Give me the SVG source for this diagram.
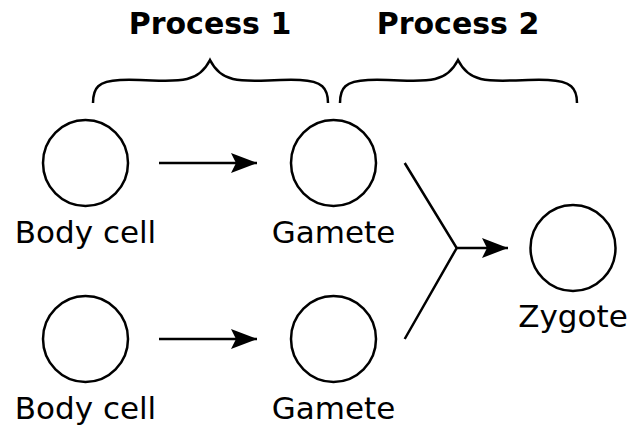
<svg xmlns="http://www.w3.org/2000/svg" width="631" height="427" viewBox="0 0 631 427">
<style>
.node{fill:none;stroke:#000;stroke-width:2.5}
.lbl{font-family:"DejaVu Sans",Verdana,sans-serif;font-size:31px;fill:#000;text-anchor:middle}
.title{font-family:"DejaVu Sans",Verdana,sans-serif;font-size:30px;font-weight:bold;fill:#000;text-anchor:middle}
.line{fill:none;stroke:#000;stroke-width:2.5}
</style>
<defs>
<marker id="ah" markerUnits="userSpaceOnUse" markerWidth="30" markerHeight="24" viewBox="-28 -12 30 24" refX="0" refY="0" orient="auto">
<path d="M0,0 L-26,-10 L-21,0 L-26,10 Z" fill="#000"/>
</marker>
</defs>
<g id="titles">
<text class="title" x="210" y="34">Process 1</text>
<text class="title" x="458" y="34">Process 2</text>
</g>
<g id="braces">
<path class="line" d="M93,103 C93,88 98,81 120,80 C150,79 170,83 187,79 C200,76 206,68 210,60 C214,68 220,76 233,79 C250,83 270,79 300,80 C322,81 328,88 328,103"/>
<path class="line" d="M340,103 C340,88 345,81 368,80 C398,79 418,83 435,79 C448,76 454,68 458,60 C462,68 468,76 481,79 C498,83 518,79 548,80 C571,81 577,88 577,103"/>
</g>
<g id="body1"><ellipse class="node" cx="85.5" cy="163" rx="42.5" ry="43"/><text class="lbl" x="85.5" y="243">Body cell</text></g>
<g id="gamete1"><ellipse class="node" cx="333.5" cy="163" rx="42.5" ry="43"/><text class="lbl" x="333.5" y="243">Gamete</text></g>
<g id="body2"><ellipse class="node" cx="85.5" cy="339" rx="42.5" ry="43"/><text class="lbl" x="85.5" y="419">Body cell</text></g>
<g id="gamete2"><ellipse class="node" cx="333.5" cy="339" rx="42.5" ry="43"/><text class="lbl" x="333.5" y="419">Gamete</text></g>
<g id="zygote"><ellipse class="node" cx="573" cy="248" rx="42.5" ry="43"/><text class="lbl" x="573" y="327">Zygote</text></g>
<g id="connectors">
<line class="line" x1="159" y1="163" x2="257" y2="163" marker-end="url(#ah)"/>
<line class="line" x1="159" y1="339" x2="257" y2="339" marker-end="url(#ah)"/>
<polyline class="line" points="404.7,163 456.7,248 404.7,339"/>
<line class="line" x1="456.7" y1="248" x2="508" y2="248" marker-end="url(#ah)"/>
</g>
</svg>
